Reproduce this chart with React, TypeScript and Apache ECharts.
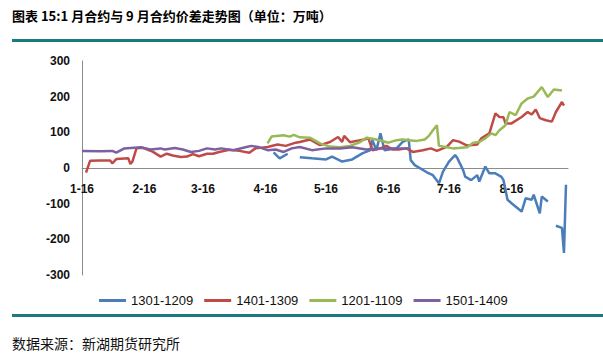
import React, { useEffect, useRef } from "react";
import * as echarts from "echarts";

// x = days since 1-16 (2012), y = spread
const monthLabels = ["1-16", "2-16", "3-16", "4-16", "5-16", "6-16", "7-16", "8-16"];
const monthDays = [0, 31, 60, 91, 121, 152, 182, 213];
const yTicks = [-300, -200, -100, 0, 100, 200, 300];

const s1301Days = [95, 98, 102, 105, 108, 114, 121, 124, 129, 134, 139, 143, 144, 146, 148, 150, 156, 159, 162, 163, 165, 171, 174, 177, 179, 182, 185, 186, 189, 190, 193, 196, 197, 200, 202, 205, 208, 209, 211, 213, 218, 220, 223, 224, 227, 228, 231, 233, 235, 238, 239, 240];
const s1301Values = [44, 27, 40, null, 30, 27, 24, 32, 18, 24, 41, 50, 78, 50, 97, 50, 55, 73, 80, 22, 8, -12, -20, -43, -10, 18, 36, 29, -6, -24, -34, -20, -38, 4, -15, -15, -25, -34, -89, -99, -122, -85, -89, -75, -127, -80, -94, null, -162, -168, -238, -47];

const s1401Days = [2, 4, 9, 14, 15, 17, 23, 24, 25, 27, 30, 33, 35, 39, 42, 45, 49, 52, 55, 58, 62, 65, 68, 73, 78, 83, 86, 92, 97, 101, 106, 108, 113, 118, 123, 127, 129, 130, 133, 136, 140, 142, 144, 148, 151, 154, 157, 161, 164, 169, 173, 176, 179, 181, 184, 187, 191, 196, 198, 202, 205, 207, 209, 210, 213, 218, 221, 223, 225, 227, 230, 233, 235, 238, 239];
const s1401Values = [-13, 20, 21, 21, 13, 25, 27, 11, 18, 55, 57, 50, 46, 32, 40, 35, 31, 32, 39, 33, 40, 40, 45, 51, 48, 43, 55, 59, 66, 62, 71, 73, 80, 64, 73, 87, 73, 90, 72, 76, 80, 84, 50, 55, 62, 52, 52, 55, 45, 50, 55, 48, 55, 60, 78, 74, 63, 66, 83, 97, 153, 143, 142, 125, 125, 143, 157, 150, 164, 140, 134, 130, 157, 185, 175];

const s1201Days = [92, 94, 100, 103, 105, 108, 113, 118, 123, 128, 133, 138, 141, 144, 148, 152, 156, 159, 162, 166, 170, 172, 174, 176, 177, 181, 184, 191, 194, 197, 200, 203, 205, 207, 210, 212, 215, 218, 221, 224, 228, 231, 234, 238];
const s1201Values = [69, 88, 92, 88, 93, 86, 85, 69, 60, 58, 62, 73, 85, 82, 77, 71, 78, 80, 78, 76, 80, 90, 106, 120, 62, 58, 55, 58, 71, 73, 83, 97, 92, 106, 120, 157, 148, 181, 195, 200, 227, 199, 220, 217];

const s1501Days = [0, 9, 15, 17, 21, 29, 34, 39, 41, 46, 50, 54, 58, 62, 66, 69, 75, 81, 84, 88, 92, 96, 100, 104, 108, 114, 121, 128, 134, 141, 148, 154, 162];
const s1501Values = [48, 47, 48, 43, 55, 58, 52, 55, 52, 56, 52, 45, 48, 55, 52, 55, 50, 58, 62, 58, 50, 52, 45, 55, 59, 50, 55, 55, 58, 52, 55, 55, 55];

const seriesNames = ["1301-1209", "1401-1309", "1201-1109", "1501-1409"];
const seriesColors = ["#4a7ebb", "#be4b48", "#98b954", "#7d60a0"];

function zip(days: number[], values: (number | null)[]) {
  return days.map((d, i) => [d, values[i] === null ? "-" : values[i]]);
}

const GRID_TOP = 61;
const GRID_BOTTOM = 80;
const CHART_H = 355;

export default function App() {
  const ref = useRef<HTMLDivElement>(null);
  useEffect(() => {
    document.body.style.margin = "0";
    const chart = echarts.init(ref.current!, null, { renderer: "svg" });
    const datasets = [
      zip(s1301Days, s1301Values),
      zip(s1401Days, s1401Values),
      zip(s1201Days, s1201Values),
      zip(s1501Days, s1501Values),
    ];
    const yMin = yTicks[0];
    const yMax = yTicks[yTicks.length - 1];
    const gridH = CHART_H - GRID_TOP - GRID_BOTTOM;
    // shift the x axis up so it sits on y = 0
    const zeroOffset = -gridH * (0 - yMin) / (yMax - yMin);
    chart.setOption({
      animation: false,
      backgroundColor: "#ffffff",
      grid: { left: 82, right: 35, top: GRID_TOP, bottom: GRID_BOTTOM, containLabel: false },
      xAxis: {
        type: "value",
        min: 0,
        max: 241,
        offset: zeroOffset,
        axisLine: { show: true, onZero: false, lineStyle: { color: "#8c8c8c", width: 1 } },
        axisTick: { show: false },
        splitLine: { show: false },
        axisLabel: {
          customValues: monthDays,
          formatter: (v: number) => {
            const i = monthDays.indexOf(v);
            return i >= 0 ? monthLabels[i] : "";
          },
          margin: 15,
          color: "#111",
          fontSize: 12,
          fontWeight: "bold",
          fontFamily: "Liberation Sans",
          showMinLabel: true,
          showMaxLabel: true,
        },
      },
      yAxis: {
        type: "value",
        min: yMin,
        max: yMax,
        interval: 100,
        axisLine: { show: true, onZero: false, lineStyle: { color: "#8c8c8c", width: 1 } },
        axisTick: { show: false },
        splitLine: { show: false },
        axisLabel: {
          margin: 12,
          color: "#111",
          fontSize: 12,
          fontWeight: "bold",
          fontFamily: "Liberation Sans",
        },
      },
      legend: {
        left: 99,
        top: 294,
        padding: 0,
        icon: "rect",
        itemWidth: 27,
        itemHeight: 3,
        itemGap: 11,
        textStyle: { fontSize: 13, color: "#111", fontFamily: "Liberation Sans" },
        data: seriesNames,
      },
      series: seriesNames.map((name, i) => ({
        name,
        type: "line",
        data: datasets[i],
        symbol: "none",
        connectNulls: false,
        color: seriesColors[i],
        lineStyle: { width: 2.5, color: seriesColors[i] },
      })),
      graphic: [
        {
          type: "text",
          left: 12,
          top: 9,
          style: {
            text: "图表 15:1 月合约与 9 月合约价差走势图（单位：万吨）",
            fontSize: 13,
            fontWeight: "bold",
            fontFamily: "Noto Sans CJK SC",
            fill: "#000",
          },
        },
        { type: "rect", shape: { x: 12, y: 39, width: 591, height: 3 }, style: { fill: "#1b7a80" } },
        { type: "rect", shape: { x: 12, y: 314, width: 591, height: 3 }, style: { fill: "#1b7a80" } },
        {
          type: "text",
          left: 12,
          top: 336,
          style: {
            text: "数据来源：新湖期货研究所",
            fontSize: 14,
            fontFamily: "Noto Sans CJK SC",
            fill: "#111",
          },
        },
      ],
    });
    return () => chart.dispose();
  }, []);
  return <div ref={ref} style={{ width: 603, height: 355 }} />;
}
